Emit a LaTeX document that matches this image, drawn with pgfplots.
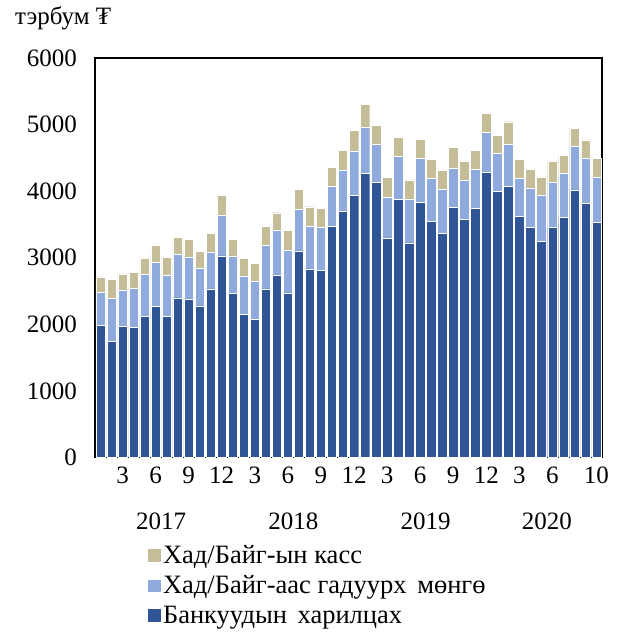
\documentclass[border=0pt]{standalone}
\usepackage{fontspec}
\setmainfont{Liberation Serif}
\usepackage{pgfplots}
\usepackage{pgfplotstable}
\pgfplotsset{compat=1.18}
\definecolor{cdark}{RGB}{47,85,151}
\definecolor{clight}{RGB}{143,170,220}
\definecolor{ctan}{RGB}{196,189,151}
\pgfplotstableread{
k dark light tan
0 1980 499 234
1 1741 648 289
2 1965 554 239
3 1950 599 234
4 2115 633 240
5 2265 663 259
6 2115 618 275
7 2399 649 259
8 2384 629 259
9 2279 559 259
10 2534 554 274
11 3028 613 304
12 2464 564 244
13 2145 583 265
14 2070 579 269
15 2534 649 289
16 2743 664 269
17 2474 643 295
18 3102 628 295
19 2833 643 290
20 2808 653 285
21 3476 599 284
22 3701 619 289
23 3940 664 309
24 4269 688 350
25 4134 575 284
26 3297 613 295
27 3880 639 289
28 3222 664 284
29 3835 659 284
30 3551 644 284
31 3371 654 285
32 3761 589 304
33 3581 589 284
34 3746 578 290
35 4280 608 285
36 4000 568 270
37 4075 628 340
38 3626 569 279
39 3461 589 274
40 3242 704 269
41 3457 683 304
42 3611 658 270
43 4021 652 275
44 3820 679 270
45 3531 678 280
}\datatable
\begin{document}
\begin{tikzpicture}[font=\fontsize{25bp}{30bp}\selectfont]
\useasboundingbox (0,0) rectangle (625bp,635bp);
\begin{axis}[
  at={(95bp,177.5bp)}, anchor=south west,
  scale only axis, width=507bp, height=399.5bp,
  ybar stacked, bar width=9.4bp,
  xmin=-0.5, xmax=45.5, ymin=0, ymax=6000,
  ytick={0,1000,...,6000},
  xtick={2,5,8,11,14,17,20,23,26,29,32,35,38,41,45},
  xticklabels={3,6,9,12,3,6,9,12,3,6,9,12,3,6,10},
  major tick length=0pt,
  axis line style={line width=1.2bp},
  /pgf/number format/assume math mode=true,
  /pgf/number format/1000 sep={},
  tick label style={font=\fontsize{25bp}{30bp}\selectfont},
  yticklabel style={xshift=-14.7bp},
  xticklabel style={yshift=-5.9bp},
  legend style={at={(0.0966,-0.21)}, anchor=north west, draw=none, fill=none,
    font=\fontsize{26.5bp}{31bp}\selectfont, row sep=6.5bp},
  legend cell align=left,
  reverse legend,
  legend image code/.code={\fill[#1] (0bp,-6.8bp) rectangle (13.5bp,6.8bp);},
  clip=false,
]
\addplot[fill=cdark, draw=white, line width=0.4bp] table[x=k,y=dark] {\datatable};
\addplot[fill=clight, draw=white, line width=0.4bp] table[x=k,y=light] {\datatable};
\addplot[fill=ctan, draw=white, line width=0.4bp] table[x=k,y=tan] {\datatable};
\legend{Банкуудын\hspace{0.15em} харилцах, Хад/Байг-аас гадуурх\hspace{0.15em} мөнгө, Хад/Байг-ын касс}
\node at (axis cs:5.5,0) [yshift=-63.5bp] {2017};
\node at (axis cs:17.5,0) [yshift=-63.5bp] {2018};
\node at (axis cs:29.5,0) [yshift=-63.5bp] {2019};
\node at (axis cs:40.5,0) [yshift=-63.5bp] {2020};
\end{axis}
\node[anchor=base west, inner sep=0pt, font=\fontsize{25bp}{30bp}\selectfont] at (15bp,610bp) {тэрбум ₮};
\end{tikzpicture}
\end{document}
